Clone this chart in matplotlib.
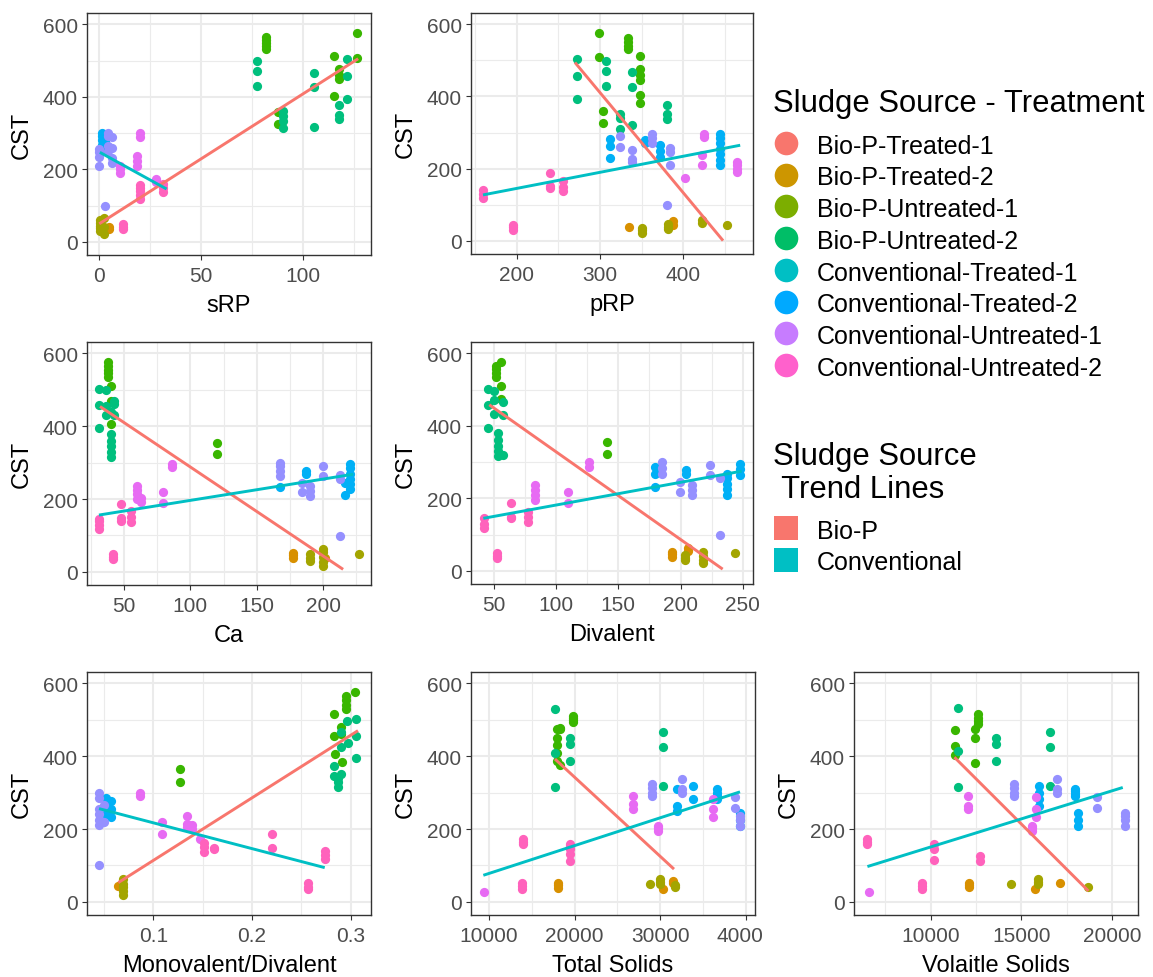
import matplotlib
matplotlib.use("Agg")
import matplotlib.pyplot as plt
from matplotlib.lines import Line2D
from matplotlib.transforms import Bbox, TransformedBbox

plt.rcParams["font.family"] = ["Liberation Sans", "DejaVu Sans"]

GROUPS = [
    "Bio-P-Treated-1", "Bio-P-Treated-2", "Bio-P-Untreated-1", "Bio-P-Untreated-2",
    "Conventional-Treated-1", "Conventional-Treated-2",
    "Conventional-Untreated-1", "Conventional-Untreated-2",
]
# points are coloured on the shared 10-level scale (trend groups included)
POINT_COLORS = ["#D89000", "#A3A500", "#39B600", "#00BF7D",
                "#00B0F6", "#9590FF", "#E76BF3", "#FF62BC"]
# the key uses the plain 8-level hue palette
KEY_COLORS = ["#F8766D", "#CD9600", "#7CAE00", "#00BE67",
              "#00BFC4", "#00A9FF", "#C77CFF", "#FF61CC"]
TRENDS = ["Bio-P", "Conventional"]
TREND_COLORS = ["#F8766D", "#00BFC4"]

# each entry: group index, x value, CST replicates measured at that x
SRP_GRP = [0, 1, 1, 4, 4, 5, 5, 5, 5, 6, 6, 6, 6, 7, 7, 7, 2, 2, 2, 2, 2, 3, 3, 3, 3, 3]
SRP_X = [5, 0.5, 2.5, 1.5, 3, 0, 4.2, 6.2, 2.8, 10, 18.5, 20, 28, 11.8, 20, 31.5,
         82, 87.5, 115, 117.5, 126.5, 77.3, 90.3, 105.5, 117.5, 121.7]
SRP_CST = [[37, 40], [30, 38, 45, 52, 60], [22, 42, 65], [255, 268, 282, 292, 300], [262, 275],
           [210, 233, 247, 255], [250, 265, 293, 300], [218, 232, 260, 288], [100],
           [190, 200, 208], [210, 222, 238], [290, 300], [165, 174],
           [35, 42, 50], [118, 128, 140, 150, 156], [137, 150, 160],
           [532, 540, 548, 556, 565], [325, 357], [403, 513], [449, 460, 476], [508, 576],
           [429, 471, 498], [313, 333, 347, 360], [317, 426, 467], [338, 350, 378], [394, 458, 504]]
SRP_TREND = [([0, 127], [50, 505]), ([0.3, 33], [247, 146])]

PRP_GRP = [7, 7, 7, 7, 3, 3, 3, 3, 3, 2, 2, 2, 2, 4, 4, 4, 4, 5, 5, 5, 5, 5,
           6, 6, 6, 6, 0, 0, 1, 1, 1, 1]
PRP_X = [159.4, 195.6, 239.8, 255.5, 271.9, 307.2, 324.1, 338.2, 380.4,
         299.2, 303.3, 334.1, 348.2, 312, 354.2, 372.3, 443.8,
         324.1, 339, 362.3, 380.4, 384, 402.4, 422.5, 424.5, 465,
         334.9, 388, 351, 382, 422.5, 452.6]
PRP_CST = [[118, 130, 141], [31, 38, 45], [146, 152, 187], [137, 150, 165],
           [394, 458, 503], [430, 471, 499], [311, 340, 352], [320, 426, 467], [339, 352, 375],
           [508, 575], [327, 359], [531, 541, 552, 563], [381, 404, 446, 460, 476, 513],
           [230, 262, 283], [270, 279], [233, 250, 265], [210, 225, 240, 255, 270, 285, 297],
           [260, 291], [219, 228, 251], [270, 285, 297], [100], [210, 245, 256],
           [173], [210, 238], [288, 297], [192, 200, 210, 218],
           [38], [45, 55], [22, 30, 36], [32, 40, 47], [50, 59], [45]]
PRP_TREND = [([270, 448], [494, 1]), ([159.4, 468.6], [127.5, 265])]

CA_GRP = [2, 2, 2, 3, 3, 3, 3, 7, 7, 7, 7, 6, 6, 6, 6, 5, 5, 5, 5, 5, 5,
          4, 4, 4, 4, 0, 0, 1, 1, 1]
CA_X = [38, 40.5, 119.8, 31.2, 36.5, 40.5, 42.5, 31.2, 41.5, 47.5, 55,
        59.5, 63, 79.6, 86, 167.4, 183.7, 190, 200, 212.6, 212.6,
        167.4, 187, 220, 216.5, 177.4, 201, 190, 200, 226.6]
CA_CST = [[535, 545, 555, 565, 575], [406, 470, 511], [323, 355],
          [395, 459, 502], [430, 455, 499], [316, 330, 345, 360, 378, 440], [430, 460, 470],
          [118, 130, 140, 145], [35, 42, 50], [141, 148, 186], [136, 150, 166],
          [200, 213, 225, 236], [192, 204], [188, 218], [287, 296],
          [264, 278, 291, 300], [218, 245], [209, 222, 236], [264, 291], [99], [255, 265],
          [232], [268, 278], [227, 240, 255, 270, 285, 296], [210, 245],
          [39, 46, 53], [39], [30, 38, 49], [16, 28, 42, 55, 62], [49]]
CA_TREND = [([32, 215], [454, 7]), ([31.2, 222.6], [156, 268])]

DIV_GRP = [2, 2, 2, 3, 3, 3, 3, 7, 7, 7, 7, 6, 6, 6, 5, 5, 5, 5, 5, 5,
           4, 4, 4, 4, 0, 0, 1, 1, 1]
DIV_X = [51.6, 55.4, 141.2, 45.4, 50, 53.5, 57.5, 42, 52.7, 64, 77.6,
         83, 109.8, 126.7, 184.9, 199.6, 209, 223.7, 231.8, 232,
         179.5, 204.4, 237, 247.8, 192.9, 206, 203.6, 218.4, 243.8]
DIV_CST = [[534, 545, 556, 566], [474, 511, 575], [323, 355],
           [394, 458, 502], [432, 470, 497], [316, 330, 345, 362, 380], [320, 430, 466],
           [118, 130, 145], [35, 42, 49], [145, 150, 186], [136, 150, 163],
           [195, 208, 222, 236], [186, 218], [287, 299],
           [268, 285, 300], [218, 245], [209, 222, 236], [264, 291], [99], [255],
           [232, 266, 287], [268, 278], [209, 225, 240, 255, 268], [264, 280, 296],
           [39, 46, 53], [55, 62], [30, 37, 44], [21, 30, 40, 53], [49]]
DIV_TREND = [([46.2, 233.9], [458, 5]), ([41.4, 249.2], [145, 275])]

MONO_GRP = [5, 5, 5, 4, 4, 1, 0, 0, 6, 6, 6, 6, 6, 7, 7, 7, 7, 7,
            2, 2, 2, 2, 2, 2, 2, 2, 3, 3, 3, 3, 3, 3, 3]
MONO_X = [0.045, 0.050, 0.045, 0.0525, 0.057, 0.0696, 0.0646, 0.068,
          0.0865, 0.1091, 0.134, 0.139, 0.147, 0.151, 0.162, 0.22, 0.257, 0.274,
          0.127, 0.3042, 0.295, 0.2829, 0.2907, 0.283, 0.2917, 0.284,
          0.296, 0.305, 0.29, 0.297, 0.283, 0.287, 0.29]
MONO_CST = [[210, 225, 240, 255, 285, 300], [220, 265], [100], [240, 270, 285], [232, 255, 278],
            [20, 30, 40, 50, 62], [44], [53],
            [291, 300], [186, 218], [205, 215, 236], [200, 210], [172],
            [136, 150, 163], [145, 149], [149, 186], [35, 42, 53], [117, 130, 140],
            [328, 365], [575], [529, 541, 553, 566], [516], [461, 479], [456], [383], [405],
            [497], [394, 456, 503], [424, 465], [437], [346, 374], [314, 330, 340], [350]]
MONO_TREND = [([0.0646, 0.3074], [53, 470]), ([0.045, 0.2737], [256, 94])]

TS_GRP = [6, 6, 6, 6, 6, 7, 7, 7, 0, 0, 0, 1, 1, 1, 2, 2, 2, 3, 3, 3,
          5, 5, 5, 5, 4, 4, 4, 4]
TS_X = [9455, 26848, 29767, 36190, 19500, 14008, 13813, 19455,
        18093, 30350, 31518, 28794, 30000, 31712,
        17900, 18300, 19766, 17650, 19455, 30350,
        28990, 32490, 38716, 39300, 31900, 33770, 36575, 39300]
TS_CST = [[26], [255, 268, 291], [195, 202, 209], [232, 255, 282], [154],
          [158, 165, 172], [35, 44, 53], [113, 131, 145, 158],
          [39, 46, 53], [35], [52, 58], [49], [49, 55, 62], [42, 46],
          [388, 410, 430, 450, 474], [375, 475, 478], [493, 499, 505, 511],
          [314, 410, 529], [388, 433, 451], [319, 426, 467],
          [291, 300, 312, 323], [300, 310, 337], [259, 287], [209, 225, 236],
          [250, 264, 310], [282, 319], [282, 292, 300, 310], [209, 225, 245]]
TS_TREND = [([17704, 31595], [392, 90]), ([9339, 39300], [73, 302])]

VS_GRP = [7, 7, 7, 7, 6, 6, 6, 6, 0, 0, 0, 1, 1, 1, 2, 2, 2, 3, 3, 3,
          5, 5, 5, 5, 4, 4, 4]
VS_X = [6500, 9503, 10200, 12726, 6593, 12081, 15580, 15800,
        12136, 15783, 17145, 14420, 15950, 18711,
        11344, 12449, 12634, 11529, 13610, 16593,
        14622, 16961, 19171, 20737, 16000, 17974, 18158]
VS_CST = [[158, 165, 172], [35, 44, 53], [115, 145, 158], [111, 126],
          [26], [255, 264, 291], [195, 202, 209], [232, 256, 287],
          [40, 46, 53], [35], [53], [49], [49, 55, 62], [42],
          [403, 429, 472], [380, 449, 474], [488, 497, 506, 516],
          [314, 415, 531], [388, 433, 451], [319, 426, 467],
          [291, 300, 312, 323], [300, 310, 337], [259, 287], [209, 225, 236, 245],
          [264, 282, 300, 319], [290, 297, 304, 310], [209, 225, 245]]
VS_TREND = [([11307, 18711], [397, 30]), ([6501, 20608], [97, 314])]

W, H = 1153, 978
GRID = "#EBEBEB"
DARK = "#333333"


def add_panel(fig, box, grp, xs, cst, trend, xlim, major, minor, xlabel):
    l, t, r, b = box
    ax = fig.add_axes([l / W, 1 - b / H, (r - l) / W, (b - t) / H])
    for g, col in enumerate(POINT_COLORS):
        px, py = [], []
        for gi, x, ys in zip(grp, xs, cst):
            if gi == g:
                px += [x] * len(ys)
                py += ys
        ax.scatter(px, py, s=44, color=col, linewidths=0, zorder=3)
    for (tx, ty), col in zip(trend, TREND_COLORS):
        ax.plot(tx, ty, color=col, lw=2.1, zorder=4, solid_capstyle="butt")

    ax.set_xlim(*xlim)
    ax.set_ylim(-36, 631)
    ax.set_xticks(major, [f"{v:g}" for v in major])
    ax.set_xticks(minor, minor=True)
    ax.set_yticks([0, 200, 400, 600])
    ax.set_yticks([100, 300, 500], minor=True)
    ax.grid(which="major", color=GRID, lw=1.5)
    ax.grid(which="minor", color=GRID, lw=0.8)
    ax.set_axisbelow(True)
    for sp in ax.spines.values():
        sp.set_color(DARK)
        sp.set_linewidth(1.0)
    ax.tick_params(which="major", length=3.6, width=0.8, color=DARK,
                   labelsize=15, labelcolor="#4D4D4D")
    ax.tick_params(axis="x", which="major", pad=4)
    ax.tick_params(axis="y", which="major", pad=3)
    ax.tick_params(which="minor", length=0)
    ax.set_xlabel(xlabel, fontsize=17, labelpad=7)
    ax.set_ylabel("CST", fontsize=17, labelpad=7)
    return ax


fig = plt.figure(figsize=(W / 100, H / 100), dpi=100)

add_panel(fig, (87, 14, 371, 256), SRP_GRP, SRP_X, SRP_CST, SRP_TREND,
          (-6, 133.3), [0, 50, 100], [25, 75, 125], "sRP")
add_panel(fig, (471, 14, 753, 255), PRP_GRP, PRP_X, PRP_CST, PRP_TREND,
          (145, 484), [200, 300, 400], [150, 250, 350, 450], "pRP")
add_panel(fig, (87, 343, 371, 586), CA_GRP, CA_X, CA_CST, CA_TREND,
          (22.2, 236), [50, 100, 150, 200], [25, 75, 125, 175, 225], "Ca")
add_panel(fig, (471, 343, 753, 585), DIV_GRP, DIV_X, DIV_CST, DIV_TREND,
          (31.5, 258.3), [50, 100, 150, 200, 250], [75, 125, 175, 225], "Divalent")
add_panel(fig, (87, 673, 371, 916), MONO_GRP, MONO_X, MONO_CST, MONO_TREND,
          (0.0328, 0.3206), [0.1, 0.2, 0.3], [0.05, 0.15, 0.25], "Monovalent/Divalent")
ax_ts = add_panel(fig, (471, 673, 755, 916), TS_GRP, TS_X, TS_CST, TS_TREND,
                  (7900, 41050), [10000, 20000, 30000, 40000], [15000, 25000, 35000],
                  "Total Solids")
add_panel(fig, (854, 673, 1138, 916), VS_GRP, VS_X, VS_CST, VS_TREND,
          (5760, 21450), [10000, 15000, 20000], [7500, 12500, 17500], "Volaitle Solids")

# the last Total Solids label runs past its cell and is cut there
cell = TransformedBbox(Bbox([[0, 0], [763 / W, 1]]), fig.transFigure)
last = ax_ts.xaxis.get_major_ticks()[-1].label1
last.set_clip_box(cell)
last.set_clip_on(True)

# keys
fig.text(773 / W, 1 - 112 / H, "Sludge Source - Treatment", fontsize=22.3, va="baseline")
pt_handles = [Line2D([], [], ls="", marker="o", markersize=17, color=c, markeredgewidth=0)
              for c in KEY_COLORS]
fig.legend(pt_handles, GROUPS, loc="upper left", bbox_to_anchor=(773 / W, 1 - 134 / H),
           frameon=False, fontsize=18, borderpad=0, borderaxespad=0,
           handlelength=1.0, handleheight=1.0, handletextpad=0.75, labelspacing=0.28)

fig.text(773 / W, 1 - 498 / H, "Sludge Source\n Trend Lines", fontsize=22.3, va="baseline",
         linespacing=1.12)
sq_handles = [Line2D([], [], ls="", marker="s", markersize=17.5, color=c, markeredgewidth=0)
              for c in TREND_COLORS]
fig.legend(sq_handles, TRENDS, loc="upper left", bbox_to_anchor=(773 / W, 1 - 519 / H),
           frameon=False, fontsize=18, borderpad=0, borderaxespad=0,
           handlelength=1.0, handleheight=1.0, handletextpad=0.75, labelspacing=0.28)

fig.savefig("out.png", dpi=100)
